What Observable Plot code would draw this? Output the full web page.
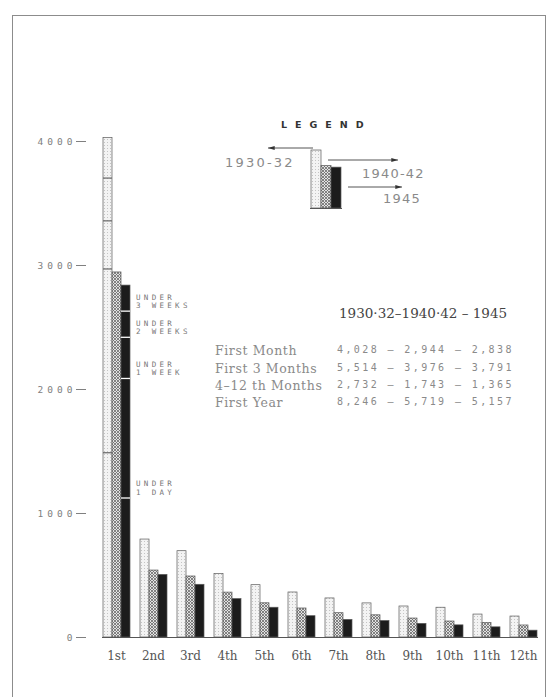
<!DOCTYPE html>
<html><head><meta charset="utf-8">
<script src="https://cdn.jsdelivr.net/npm/d3@7"></script>
<script src="https://cdn.jsdelivr.net/npm/@observablehq/plot@0.6"></script>
<style>
body{margin:0;background:#fff;width:551px;height:697px;overflow:hidden;position:relative;}
#frame{position:absolute;left:12px;top:15px;width:534px;height:720px;border:1.5px solid #8c8c8c;box-sizing:border-box;}
#chart{position:absolute;left:0;top:0;}
#legendbars{position:absolute;left:302px;top:138px;}
#overlay{position:absolute;left:0;top:0;pointer-events:none;}
.t{position:absolute;white-space:nowrap;line-height:1;}
#legendTitle{left:281px;top:119px;font:bold 9.5px "DejaVu Sans",sans-serif;letter-spacing:8px;color:#333;}
.lg{font:13px "DejaVu Sans",sans-serif;color:#8a8a8a;letter-spacing:1.2px;}
.rl{left:215px;font:12.5px "DejaVu Serif",serif;color:#8a8a8a;letter-spacing:0.6px;}
.rv{left:337px;font:10px "DejaVu Sans Mono",monospace;color:#8a8a8a;letter-spacing:2.4px;}
svg [aria-label="y-axis tick label"] text{letter-spacing:4px;}
</style></head><body>
<svg width="0" height="0" style="position:absolute"><defs>
<pattern id="p1930" width="3" height="3" patternUnits="userSpaceOnUse"><rect width="3" height="3" fill="#f3f3f3"/><rect x="1" y="1" width="1" height="1" fill="#c4c4c4"/></pattern>
<pattern id="p1940" width="3" height="3" patternUnits="userSpaceOnUse"><rect width="3" height="3" fill="#e2e2e2"/><path d="M0,0L3,3M3,0L0,3" stroke="#6a6a6a" stroke-width="0.8"/></pattern>
</defs></svg>
<div id="frame"></div>
<div id="chart"></div>
<div id="legendbars"></div>
<svg id="overlay" width="551" height="697">
<defs><marker id="ah" viewBox="0 0 10 6" refX="10" refY="3" markerWidth="7" markerHeight="4" orient="auto"><path d="M0,0L10,3L0,6z" fill="#333"/></marker></defs>
<line x1="313" y1="148" x2="268" y2="148" stroke="#555" stroke-width="1" marker-end="url(#ah)"/>
<line x1="328" y1="160" x2="398" y2="160" stroke="#555" stroke-width="1" marker-end="url(#ah)"/>
<line x1="348" y1="187" x2="402" y2="187" stroke="#555" stroke-width="1" marker-end="url(#ah)"/>
</svg>
<div class="t" id="legendTitle">LEGEND</div>
<div class="t lg" style="left:225px;top:155px;letter-spacing:2.2px">1930-32</div>
<div class="t lg" style="left:362px;top:166px">1940-42</div>
<div class="t lg" style="left:383px;top:191px">1945</div>
<div id="table"></div>
<script>
const months = ["1st","2nd","3rd","4th","5th","6th","7th","8th","9th","10th","11th","12th"];
const periods = ["1930-32","1940-42","1945"];
const v1930 = [4028,790,696,512,422,363,315,275,250,240,185,169];
const v1940 = [2944,540,492,362,276,234,196,179,153,129,118,97];
const v1945 = [2838,505,425,310,240,172,142,133,110,98,82,55];
const segLabels = ["UNDER\n1 DAY","UNDER\n1 WEEK","UNDER\n2 WEEKS","UNDER\n3 WEEKS"];
const seg1945 = [1125,2089,2421,2632];
const seg1930 = [1490,2972,3360,3705];
const yTicks = [0,1000,2000,3000,4000];
const tableHeader = "1930·32–1940·42 – 1945";
const tableRows = ["First Month","First 3 Months","4–12 th Months","First Year"];
const table1930 = ["4,028","5,514","2,732","8,246"];
const table1940 = ["2,944","3,976","1,743","5,719"];
const table1945 = ["2,838","3,791","1,365","5,157"];

const rows = months.flatMap((m,i)=>[
  {month:m, period:periods[0], value:v1930[i]},
  {month:m, period:periods[1], value:v1940[i]},
  {month:m, period:periods[2], value:v1945[i]}
]);
const segRows45 = seg1945.map((v,i)=>({month:months[0], period:periods[2], value:v, label:segLabels[i]}));
const segRows30 = seg1930.map((v,i)=>({month:months[0], period:periods[0], value:v}));
const fills = ["url(#p1930)","url(#p1940)","#1c1c1c"];

const chart = Plot.plot({
  width:551, height:697,
  marginTop:141, marginBottom:60, marginLeft:80, marginRight:6,
  fx:{domain:months, paddingInner:0.23, paddingOuter:0.28, align:0.73, label:null},
  x:{domain:periods, padding:0, axis:null},
  y:{domain:[0,4000], label:null},
  color:{domain:periods, range:fills},
  style:{background:"transparent", overflow:"visible"},
  marks:[
    Plot.frame({anchor:"bottom", facet:"super", stroke:"#555", strokeWidth:1}),
    Plot.barY(rows, {fx:"month", x:"period", y:"value", fill:"period", stroke:"#5a5a5a", strokeWidth:0.7}),
    Plot.tickY(segRows30, {fx:"month", x:"period", y:"value", stroke:"#666", strokeWidth:1.2}),
    Plot.tickY(segRows45, {fx:"month", x:"period", y:"value", stroke:"#fff", strokeWidth:1.3}),
    Plot.text(segRows45, {fx:"month", x:"period", y:"value", text:"label", dx:10, dy:-3, textAnchor:"start", lineAnchor:"bottom", lineHeight:1.15, fontSize:7.5, fontFamily:"DejaVu Sans Mono", fill:"#777"}),
    Plot.axisY({ticks:yTicks, tickFormat:d=>String(d), tickSize:10, tickPadding:0, dx:-16, fontSize:9.5, fontFamily:"DejaVu Sans Mono", fill:"#808080", stroke:"#808080", label:null}),
    Plot.axisFx({anchor:"bottom", tickSize:0, tickPadding:14, fontSize:12, fontFamily:"DejaVu Serif", fill:"#555", label:null})
  ]
});
chart.querySelectorAll('g[aria-label="text"] text').forEach(t => t.style.letterSpacing = "3.3px");
document.getElementById("chart").append(chart);

const legendRows = periods.map((p,i)=>({period:p, value:[v1930[0],v1940[0],v1945[0]][i]}));
const legend = Plot.plot({
  width:42, height:70, marginTop:12, marginBottom:0, marginLeft:8, marginRight:2,
  x:{domain:periods, padding:0, axis:null},
  y:{domain:[0,4028], axis:null},
  color:{domain:periods, range:fills},
  style:{background:"transparent", overflow:"visible"},
  marks:[
    Plot.barY(legendRows, {x:"period", y:"value", fill:"period", stroke:"#5a5a5a", strokeWidth:0.7}),
    Plot.ruleY([0], {stroke:"#555"})
  ]
});
document.getElementById("legendbars").append(legend);

const table = document.getElementById("table");
const add = (cls, txt, style) => { const d=document.createElement("div"); d.className="t "+cls; d.textContent=txt; d.style.cssText=style; table.append(d); };
add("", tableHeader, "left:339px;top:305px;font:13.5px 'DejaVu Serif',serif;color:#444;");
const rowTops = [343,361,378,395];
tableRows.forEach((r,i)=>{
  add("rl", r, "top:"+rowTops[i]+"px");
  add("rv", table1930[i]+" – "+table1940[i]+" – "+table1945[i], "top:"+(rowTops[i]+1)+"px");
});
</script>
</body></html>
